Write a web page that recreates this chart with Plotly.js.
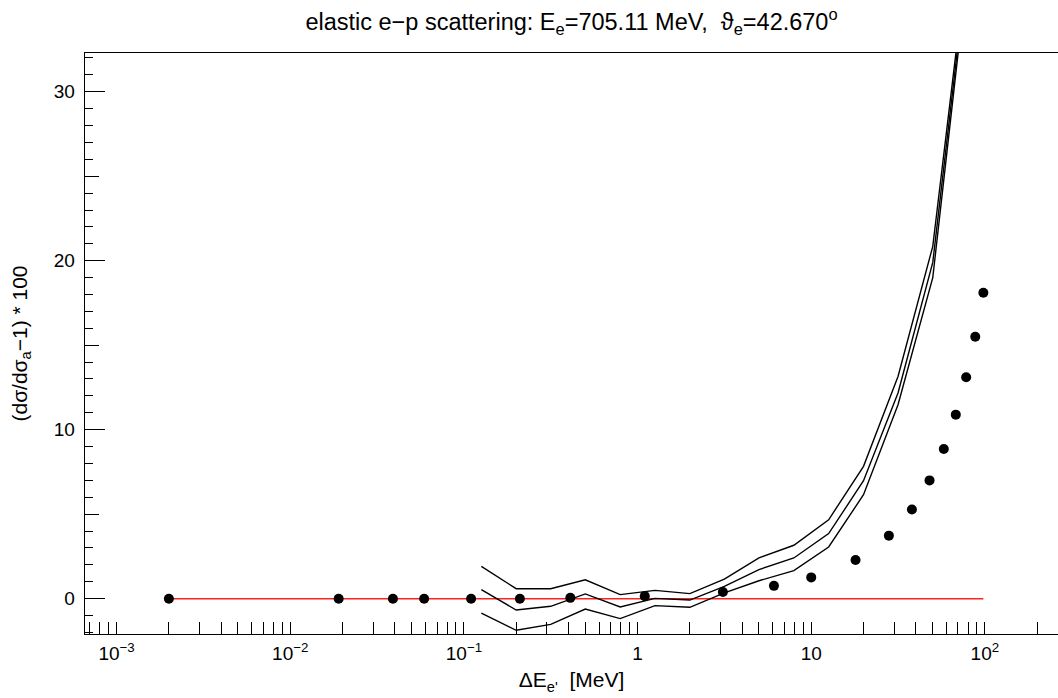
<!DOCTYPE html>
<html><head><meta charset="utf-8">
<script src="https://cdn.plot.ly/plotly-3.0.1.min.js"></script>
<style>html,body{margin:0;padding:0;background:#fff;} #chart{width:1058px;height:698px;}</style>
</head><body><div id="chart"></div>
<script>
// measured points (filled circles)
const pointE = [0.002, 0.019, 0.039, 0.059, 0.11, 0.21, 0.41, 1.1, 3.1, 6.1, 10, 18, 28, 38, 48, 58, 68, 78, 88, 98];
const pointDelta = [0, 0, 0, 0, 0, 0, 0.05, 0.15, 0.4, 0.76, 1.26, 2.29, 3.73, 5.28, 7.0, 8.86, 10.89, 13.1, 15.5, 18.1];
// three black curves
const curveE = [0.126, 0.2, 0.316, 0.5, 0.794, 1.26, 2.0, 3.16, 5.0, 7.94, 12.6, 20.0, 31.6, 50.1, 79.4];
const curveUpper  = [1.91, 0.59, 0.59, 1.12, 0.24, 0.49, 0.30, 1.16, 2.41, 3.16, 4.67, 7.83, 13.15, 20.85, 38.0];
const curveMiddle = [0.53, -0.67, -0.45, 0.28, -0.49, 0.02, -0.08, 0.73, 1.72, 2.41, 3.85, 6.98, 12.17, 19.9, 37.6];
const curveLower  = [-0.85, -1.87, -1.52, -0.61, -1.18, -0.41, -0.51, 0.34, 1.06, 1.66, 3.06, 6.15, 11.48, 19.0, 37.2];
// red reference line
const refE = [0.002, 98];
const refDelta = [0, 0];
// axis ticks
const decades = [-4, -3, -2, -1, 0, 1, 2];
const decadeLabels = {"-3": "10<sup>\u22123</sup>", "-2": "10<sup>\u22122</sup>", "-1": "10<sup>\u22121</sup>", "0": "1", "1": "10", "2": "10<sup>2</sup>"};
const yMajor = [0, 10, 20, 30];
const yMajorText = ["0", "10", "20", "30"];
const yMedium = [5, 15, 25];

const xTickVals = [], xTickText = [];
decades.forEach(d => {
  for (let m = 1; m <= 9; m++) {
    xTickVals.push(m * Math.pow(10, d));
    xTickText.push(m === 1 && decadeLabels[String(d)] ? decadeLabels[String(d)] : "");
  }
});

const FONT = "Liberation Sans, Arial, Helvetica, sans-serif";
const lineStyle = {color: "black", width: 1.4};
const traces = [
  {x: refE, y: refDelta, mode: "lines", line: {color: "#ff2020", width: 1.5}, hoverinfo: "skip"},
  {x: curveE, y: curveUpper, mode: "lines", line: lineStyle},
  {x: curveE, y: curveMiddle, mode: "lines", line: lineStyle},
  {x: curveE, y: curveLower, mode: "lines", line: lineStyle},
  {x: pointE, y: pointDelta, mode: "markers", marker: {color: "black", size: 10}},
  {x: [], y: [], yaxis: "y2", mode: "markers", showlegend: false}
];
const yRange = [-2.09, 32.29];
const layout = {
  width: 1058, height: 698,
  margin: {l: 85, r: 0, t: 53, b: 64, pad: 0},
  paper_bgcolor: "white", plot_bgcolor: "white",
  showlegend: false,
  font: {family: FONT, color: "black", size: 19},
  title: {text: "elastic e\u2212p scattering: E<sub>e</sub>=705.11 MeV,  \u03d1<sub>e</sub>=42.670<sup>o</sup>",
          font: {family: FONT, size: 23.5, color: "black"}, x: 0.5, xref: "paper", xanchor: "center",
          y: 1 - 22/698, yref: "container", yanchor: "middle"},
  xaxis: {
    type: "log", range: [-3.182, 2.421], autorange: false,
    tickmode: "array", tickvals: xTickVals, ticktext: xTickText,
    ticks: "inside", ticklen: 12, tickwidth: 1, tickcolor: "black",
    showline: true, linecolor: "black", linewidth: 1.3, mirror: true,
    showgrid: false, zeroline: false, ticklabelstandoff: 2,
    tickfont: {size: 19, family: FONT},
    title: {text: "\u0394E<sub>e'</sub>  [MeV]", font: {size: 21, family: FONT}, standoff: 9}
  },
  yaxis: {
    range: yRange, autorange: false,
    tickmode: "array", tickvals: yMajor, ticktext: yMajorText,
    ticks: "inside", ticklen: 20, tickwidth: 1, tickcolor: "black",
    minor: {dtick: 1, tick0: 0, ticks: "inside", ticklen: 8, tickcolor: "black", tickwidth: 1},
    showline: true, linecolor: "black", linewidth: 1.3, mirror: false,
    showgrid: false, zeroline: false, ticklabelstandoff: 5,
    tickfont: {size: 19, family: FONT},
    title: {text: "(d\u03c3/d\u03c3<sub>a</sub>\u22121) * 100", font: {size: 21, family: FONT}, standoff: 20}
  },
  yaxis2: {
    overlaying: "y", range: yRange, autorange: false,
    tickmode: "array", tickvals: yMedium, showticklabels: false,
    ticks: "inside", ticklen: 14, tickwidth: 1, tickcolor: "black",
    showline: false, showgrid: false, zeroline: false, side: "left"
  }
};
Plotly.newPlot("chart", traces, layout, {displayModeBar: false, staticPlot: true});
</script></body></html>
